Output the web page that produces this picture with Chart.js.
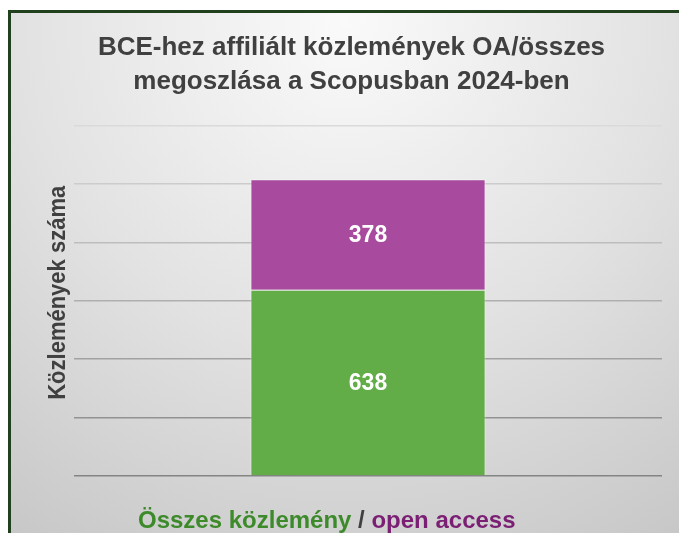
<!DOCTYPE html>
<html>
<head>
<meta charset="utf-8">
<script src="https://cdn.jsdelivr.net/npm/chart.js@4.4.1/dist/chart.umd.min.js"></script>
<style>
  html, body { margin: 0; padding: 0; background: #fff; }
  #wrap { width: 679px; height: 533px; }
</style>
</head>
<body>
<div id="wrap"><canvas id="chart" width="679" height="533"></canvas></div>
<script>
const categories = ['2024'];
const seriesLabels = ['Összes közlemény', 'open access'];
const osszesValues = [638];
const openAccessValues = [378];
const yMin = 0;
const yMax = 1200;
const yStep = 200;
const titleLines = ['BCE-hez affiliált közlemények OA/összes', 'megoszlása a Scopusban 2024-ben'];
const yAxisTitle = 'Közlemények száma';
const xLabelParts = ['Összes közlemény', ' / ', 'open access'];

const FONT = '"Liberation Sans", Arial, Helvetica, sans-serif';
const GREEN = '#62ad47';
const PURPLE = '#a84a9e';
const TEXT = '#404040';

// light-to-dark grid lines, darker toward the baseline
function gridColor(ctx) {
  const t = (ctx.tick ? ctx.tick.value : 0) / yMax;
  const g = Math.round(0x84 + (0xda - 0x84) * t);
  return `rgb(${g},${g},${g})`;
}

const backgroundPlugin = {
  id: 'frameBackground',
  beforeDraw(chart) {
    const { ctx, width, height } = chart;
    ctx.save();
    ctx.fillStyle = '#ffffff';
    ctx.fillRect(0, 0, width, height);
    const grad = ctx.createRadialGradient(345, 20, 0, 345, 20, 650);
    grad.addColorStop(0, '#fafafa');
    grad.addColorStop(0.5, '#e2e2e2');
    grad.addColorStop(1, '#c4c4c4');
    ctx.fillStyle = grad;
    ctx.fillRect(10, 12, width - 10, height - 12);
    ctx.fillStyle = '#21401d';
    ctx.fillRect(8, 10, 3, height - 10);
    ctx.fillRect(8, 10, width - 8, 3);
    ctx.restore();
  }
};

// rotated y-axis title, slightly widened like the original export
const yTitlePlugin = {
  id: 'yTitle',
  afterDraw(chart) {
    const { ctx, chartArea } = chart;
    ctx.save();
    ctx.translate(58, (chartArea.top + chartArea.bottom) / 2 - 8);
    ctx.rotate(-Math.PI / 2);
    ctx.scale(1, 1.12);
    ctx.font = `bold 22px ${FONT}`;
    ctx.fillStyle = TEXT;
    ctx.textAlign = 'center';
    ctx.textBaseline = 'middle';
    ctx.fillText(yAxisTitle, 0, 0);
    ctx.restore();
  }
};

const valueLabelPlugin = {
  id: 'valueLabels',
  afterDatasetsDraw(chart) {
    const { ctx } = chart;
    ctx.save();
    ctx.fillStyle = '#ffffff';
    ctx.font = `bold 23px ${FONT}`;
    ctx.textAlign = 'center';
    ctx.textBaseline = 'middle';
    chart.data.datasets.forEach((ds, i) => {
      chart.getDatasetMeta(i).data.forEach((bar, j) => {
        const y = (bar.y + bar.base) / 2 + 1;
        ctx.fillText(String(ds.data[j]), bar.x, y);
      });
    });
    ctx.restore();
  }
};

const xLabelPlugin = {
  id: 'xLabel',
  afterDraw(chart) {
    const { ctx } = chart;
    const colors = ['#3c8a2a', TEXT, '#7a1f73'];
    ctx.save();
    ctx.font = `bold 24px ${FONT}`;
    ctx.textBaseline = 'alphabetic';
    ctx.textAlign = 'left';
    let x = 138;
    xLabelParts.forEach((part, i) => {
      ctx.fillStyle = colors[i];
      ctx.fillText(part, x, 528);
      x += ctx.measureText(part).width;
    });
    ctx.restore();
  }
};

const ctx = document.getElementById('chart').getContext('2d');
new Chart(ctx, {
  type: 'bar',
  data: {
    labels: categories,
    datasets: [
      {
        label: seriesLabels[0],
        data: osszesValues,
        backgroundColor: GREEN,
        borderColor: 'rgba(255,255,255,0.45)',
        borderWidth: 1,
        barPercentage: 0.4,
        categoryPercentage: 1.0
      },
      {
        label: seriesLabels[1],
        data: openAccessValues,
        backgroundColor: PURPLE,
        borderColor: 'rgba(255,255,255,0.45)',
        borderWidth: 1,
        barPercentage: 0.4,
        categoryPercentage: 1.0
      }
    ]
  },
  options: {
    responsive: false,
    animation: false,
    devicePixelRatio: 1,
    layout: { padding: { left: 41, right: 17, top: 0, bottom: 57 } },
    plugins: {
      legend: { display: false },
      tooltip: { enabled: false },
      title: {
        display: true,
        text: titleLines,
        color: TEXT,
        font: { family: FONT, size: 26, weight: 'bold', lineHeight: 1.3 },
        padding: { top: 31, bottom: 27 }
      }
    },
    scales: {
      x: { stacked: true, display: false },
      y: {
        stacked: true,
        min: yMin,
        max: yMax,
        ticks: { display: false, stepSize: yStep },
        border: { display: false },
        grid: { color: gridColor, lineWidth: 1.5, drawTicks: false },
        title: { display: false },
        afterFit(scale) { scale.width = 33; }
      }
    }
  },
  plugins: [backgroundPlugin, valueLabelPlugin, yTitlePlugin, xLabelPlugin]
});
</script>
</body>
</html>
